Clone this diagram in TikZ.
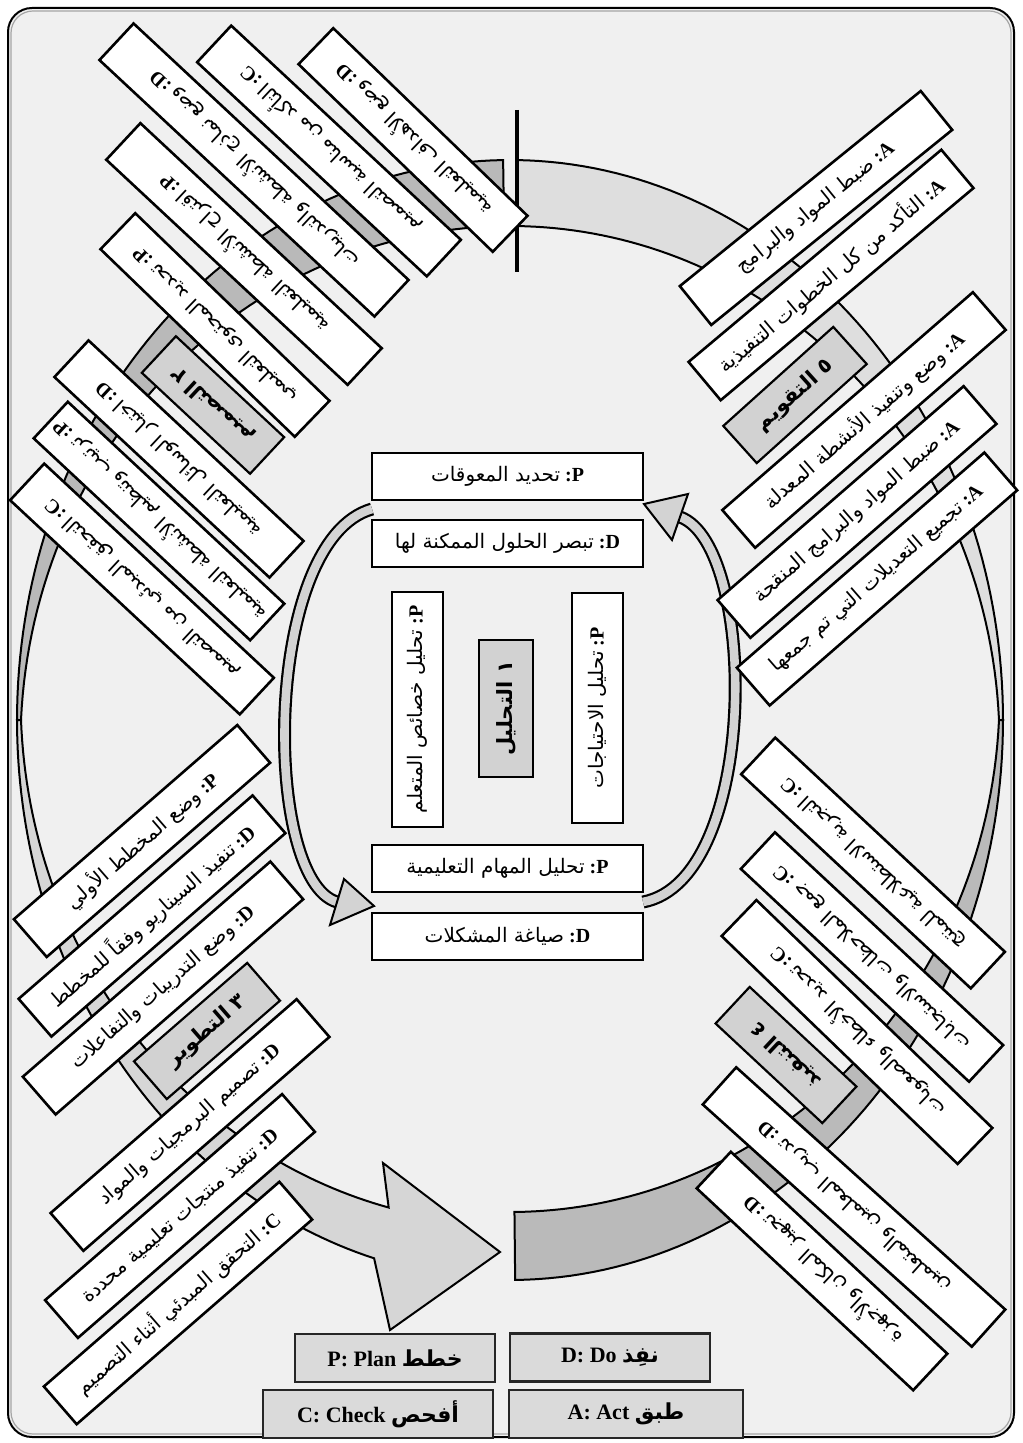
\documentclass[tikz,border=0pt]{standalone}
\usepackage{fontspec}
\setmainfont{Liberation Serif}
\newfontfamily\arf[Script=Arabic]{DejaVu Sans}
\TeXXeTstate=1
\newcommand{\lat}[1]{\textbf{:#1}}
\definecolor{bgc}{HTML}{F0F0F0}
\definecolor{bandTL}{HTML}{B9B9B9}
\definecolor{bandBL}{HTML}{D6D6D6}
\definecolor{bandBR}{HTML}{BABABA}
\definecolor{bandTR}{HTML}{DEDEDE}
\definecolor{phc}{HTML}{D2D2D2}
\definecolor{lgc}{HTML}{DADADA}
\definecolor{arcc}{HTML}{D3D3D3}
\newcommand{\ringband}[4]{%
 \filldraw[#1] plot[domain=#2:#3,samples=70,variable=\t] ({510+493*cos(\t)},{720+560*sin(\t)})
 -- plot[domain=#3:#2,samples=70,variable=\t] ({510+(489-#4*abs(sin(\t))*(0.4+0.6*abs(sin(\t))))*cos(\t)},{720+(556-#4*abs(sin(\t))*(0.4+0.6*abs(sin(\t))))*sin(\t)}) -- cycle;}
\begin{document}
\begin{tikzpicture}[x=0.5pt,y=-0.5pt,
  bx/.style={draw=black, line width=1.3pt, fill=white, inner sep=0pt, minimum height=25pt, font=\fontsize{10}{12}\selectfont},
  ph/.style={draw=black, line width=1.1pt, fill=phc, inner sep=0pt, minimum height=25pt, font=\fontsize{10.5}{12}\selectfont\bfseries},
  lg/.style={draw=black!85, line width=1.2pt, fill=lgc, inner sep=0pt, minimum height=24pt, font=\fontsize{11}{13}\selectfont\bfseries},
  bandline/.style={draw=black, line width=1pt}]
\useasboundingbox (0,0) rectangle (1022,1443);
% frame
\draw[rounded corners=12pt, line width=1pt, fill=bgc] (8,8) rectangle (1014,1437);
\draw[rounded corners=11pt, line width=0.6pt, draw=gray!70] (11,11) rectangle (1011,1434);
% outer ring bands
\ringband{bandline, fill=bandTL}{-90.8}{-180}{62}
\ringband{bandline, fill=bandTR}{-89.2}{0}{62}
\ringband{bandline, fill=bandBR}{89.4}{0}{64}
\filldraw[bandline, fill=bandBL] plot[domain=180:106,samples=70,variable=\t] ({510+493*cos(\t)},{720+560*sin(\t)})
 -- (390,1330) -- (500,1252) -- (383,1163)
 -- plot[domain=106:180,samples=70,variable=\t] ({510+(489-52*abs(sin(\t))*(0.4+0.6*abs(sin(\t))))*cos(\t)},{720+(556-52*abs(sin(\t))*(0.4+0.6*abs(sin(\t))))*sin(\t)}) -- cycle;
% top bar
\coordinate (bart) at (517,110);
\coordinate (barb) at (517,272);
\draw[line width=1.6pt] (bart) -- (barb);
% inner arcs
\coordinate (la0) at (372,509);
\coordinate (la1) at (337,902);
\coordinate (ra0) at (643,902);
\coordinate (ra1) at (680,517);
\draw[line width=6.5pt] (la0) .. controls (262,540) and (262,880) .. (la1);
\draw[line width=4.3pt, arcc] (la0) .. controls (262,540) and (262,880) .. (la1);
\filldraw[line width=1pt, fill=arcc] (344,879) -- (374,906) -- (330,925) -- cycle;
\draw[line width=6.5pt] (ra0) .. controls (760,880) and (758,545) .. (ra1);
\draw[line width=4.3pt, arcc] (ra0) .. controls (760,880) and (758,545) .. (ra1);
\filldraw[line width=1pt, fill=arcc] (688,494) -- (644,504) -- (672,540) -- cycle;
% phase labels
\node[ph, rotate=42, minimum width=74pt] (ph5) at (795,395) {{\arf\beginR ٥ التقويم\endR}};
\node[ph, rotate=137, minimum width=74pt] (ph2) at (213,405) {{\arf\beginR ٢ التصميم\endR}};
\node[ph, rotate=41, minimum width=75pt] (ph3) at (207,1031) {{\arf\beginR ٣ التطوير\endR}};
\node[ph, rotate=137, minimum width=73pt] (ph4) at (786,1055) {{\arf\beginR ٤ التنفيذ\endR}};
% top-right (evaluation)
\node[bx, rotate=39, minimum width=155pt] (a1) at (816,208) {{\arf\beginR ضبط المواد والبرامج\endR} \lat{A}};
\node[bx, rotate=40, minimum width=165pt] (a2) at (831,275) {{\arf\beginR التأكد من كل الخطوات التنفيذية\endR} \lat{A}};
\node[bx, rotate=41, minimum width=166pt] (a3) at (864,420) {{\arf\beginR وضع وتنفيذ الأنشطة المعدلة\endR} \lat{A}};
\node[bx, rotate=41, minimum width=163pt] (a4) at (857,512) {{\arf\beginR ضبط المواد والبرامج المنقحة\endR} \lat{A}};
\node[bx, rotate=41, minimum width=164pt] (a5) at (877,579) {{\arf\beginR تجميع التعديلات التي تم جمعها\endR} \lat{A}};
% top-left (design)
\node[bx, rotate=136, minimum width=135pt] (t1) at (413,140) {{\arf\beginR وضع الأهداف التعليمية\endR} \lat{D}};
\node[bx, rotate=137, minimum width=157pt] (t2) at (329,151) {{\arf\beginR التأكد من مناسبة التصميم\endR} \lat{C}};
\node[bx, rotate=137, minimum width=188pt] (t3) at (254,170) {{\arf\beginR وضع نماذج الأنشطة والتدريبات\endR} \lat{D}};
\node[bx, rotate=137, minimum width=165pt] (t4) at (244,254) {{\arf\beginR اقتراح الأنشطة التعليمية\endR} \lat{P}};
\node[bx, rotate=136, minimum width=135pt] (t5) at (215,325) {{\arf\beginR تحديد المحتوى التعليمي\endR} \lat{P}};
% left-middle
\node[bx, rotate=137, minimum width=147pt] (m1) at (179,459) {{\arf\beginR اختيار الوسائل التعليمية\endR} \lat{D}};
\node[bx, rotate=137, minimum width=148pt] (m2) at (159,521) {{\arf\beginR ترتيب وتنظيم الأنشطة التعليمية\endR} \lat{P}};
\node[bx, rotate=137, minimum width=157pt] (m3) at (142,589) {{\arf\beginR التحقق المبدئي من التصميم\endR} \lat{C}};
% bottom-left (development)
\node[bx, rotate=41, minimum width=148pt] (b1) at (142,841) {{\arf\beginR وضع المخطط الأولي\endR} \lat{P}};
\node[bx, rotate=41, minimum width=155pt] (b2) at (152,916) {{\arf\beginR تنفيذ السيناريو وفقاً للمخطط\endR} \lat{D}};
\node[bx, rotate=41, minimum width=164pt] (b3) at (163,988) {{\arf\beginR وضع التدريبات والتفاعلات\endR} \lat{D}};
\node[bx, rotate=41, minimum width=163pt] (b4) at (190,1125) {{\arf\beginR تصميم البرمجيات والمواد\endR} \lat{D}};
\node[bx, rotate=41, minimum width=157pt] (b5) at (180,1216) {{\arf\beginR تنفيذ منتجات تعليمية محددة\endR} \lat{D}};
\node[bx, rotate=41, minimum width=156pt] (b6) at (178,1303) {{\arf\beginR التحقق المبدئي أثناء التصميم\endR} \lat{C}};
% bottom-right (implementation)
\node[bx, rotate=137, minimum width=157pt] (r1) at (873,863) {{\arf\beginR التجربة الاستطلاعية للمنتج\endR} \lat{C}};
\node[bx, rotate=137, minimum width=156pt] (r2) at (872,957) {{\arf\beginR جمع الملاحظات والاستجابات\endR} \lat{C}};
\node[bx, rotate=136, minimum width=164pt] (r3) at (857,1032) {{\arf\beginR تحديد الأخطاء والصعوبات\endR} \lat{C}};
\node[bx, rotate=138, minimum width=181pt] (r4) at (854,1207) {{\arf\beginR تدريب المعلمين والمتعلمين\endR} \lat{D}};
\node[bx, rotate=137, minimum width=148pt] (r5) at (822,1271) {{\arf\beginR تجهيز المكان والأجهزة\endR} \lat{D}};
% center (analysis)
\node[bx, minimum width=135.5pt, minimum height=23.5pt] (c1) at (507.5,476.5) {{\arf\beginR تحديد المعوقات\endR} \lat{P}};
\node[bx, minimum width=135.5pt, minimum height=23.5pt] (c2) at (507.5,543.5) {{\arf\beginR تبصر الحلول الممكنة لها\endR} \lat{D}};
\node[bx, rotate=90, minimum width=117.5pt, minimum height=25.5pt] (c3) at (417.5,709.5) {{\arf\beginR تحليل خصائص المتعلم\endR} \lat{P}};
\node[ph, rotate=90, minimum width=68.5pt, minimum height=27pt] (c4) at (506,708.5) {{\arf\beginR ١ التحليل\endR}};
\node[bx, rotate=90, minimum width=115pt, minimum height=25.5pt] (c5) at (597.5,708) {{\arf\beginR تحليل الاحتياجات\endR} \lat{P}};
\node[bx, minimum width=135.5pt, minimum height=23.5pt] (c6) at (507.5,868.5) {{\arf\beginR تحليل المهام التعليمية\endR} \lat{P}};
\node[bx, minimum width=135.5pt, minimum height=23.5pt] (c7) at (507.5,936.5) {{\arf\beginR صياغة المشكلات\endR} \lat{D}};
% legend
\node[lg, minimum width=100pt] (l1) at (395,1358) {P: Plan {\arf خطط}};
\node[lg, minimum width=100pt] (l2) at (610,1357.5) {D: Do {\arf نفِذ}};
\node[lg, minimum width=115pt] (l3) at (378,1414) {C: Check {\arf أفحص}};
\node[lg, minimum width=117pt] (l4) at (626,1414) {A: Act {\arf طبق}};
\end{tikzpicture}
\end{document}
